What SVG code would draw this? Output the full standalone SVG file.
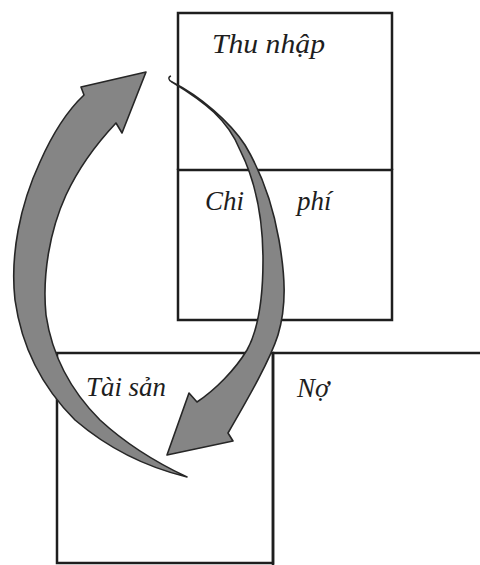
<svg xmlns="http://www.w3.org/2000/svg" width="480" height="565" viewBox="0 0 480 565">
<style>
.box{fill:none;stroke:#1e1e1e;stroke-width:2.5}
.lbl{font-family:"Liberation Serif","DejaVu Serif",serif;font-style:italic;font-size:27px;fill:#1e1e1e}
.arrow{fill:#858585;stroke:#262626;stroke-width:1.6;stroke-linejoin:round}
</style>
<rect width="480" height="565" fill="#ffffff"/>
<g id="thu-nhap">
<path class="box" d="M178,170 V13 H392 V170"/>
<text class="lbl" x="212" y="53" textLength="113" lengthAdjust="spacingAndGlyphs">Thu nhập</text>
</g>
<g id="chi-phi">
<rect class="box" x="178" y="170" width="214" height="150"/>
<text class="lbl" x="205" y="210">Chi</text>
<text class="lbl" x="297" y="210">phí</text>
</g>
<g id="tai-san">
<path class="box" d="M273,353 H57 V563 H273 Z"/>
<text class="lbl" x="86" y="396" textLength="80" lengthAdjust="spacingAndGlyphs">Tài sản</text>
</g>
<g id="no">
<path class="box" d="M273,353 H482 M273,353 V565"/>
<text class="lbl" x="297" y="397">Nợ</text>
</g>
<g id="connectors">
<path class="arrow" d="M187,477 C150,468 110,450 75,420 C45,390 22,350 15,300 C10,255 20,205 40,162 C52,135 68,110 84,95 L81,87 L146,72 L122,133 L116,123 C100,140 80,165 66,195 C50,230 42,275 46,315 C52,355 70,390 100,420 C125,443 155,462 187,477 Z"/>
<path class="arrow" d="M172,82 C200,96 230,122 245,145 C260,170 272,200 279,240 C285,275 287,305 278,335 C270,360 250,395 228,433 L233,441 L167,455 L189,393 L197,402 C215,390 235,370 247,350 C258,330 263,300 263,260 C263,215 255,180 240,150 C228,120 205,102 172,82 Z"/>
<path d="M172,82 C168,80 168,77 171,76" fill="none" stroke="#262626" stroke-width="1.4"/>
</g>
</svg>
